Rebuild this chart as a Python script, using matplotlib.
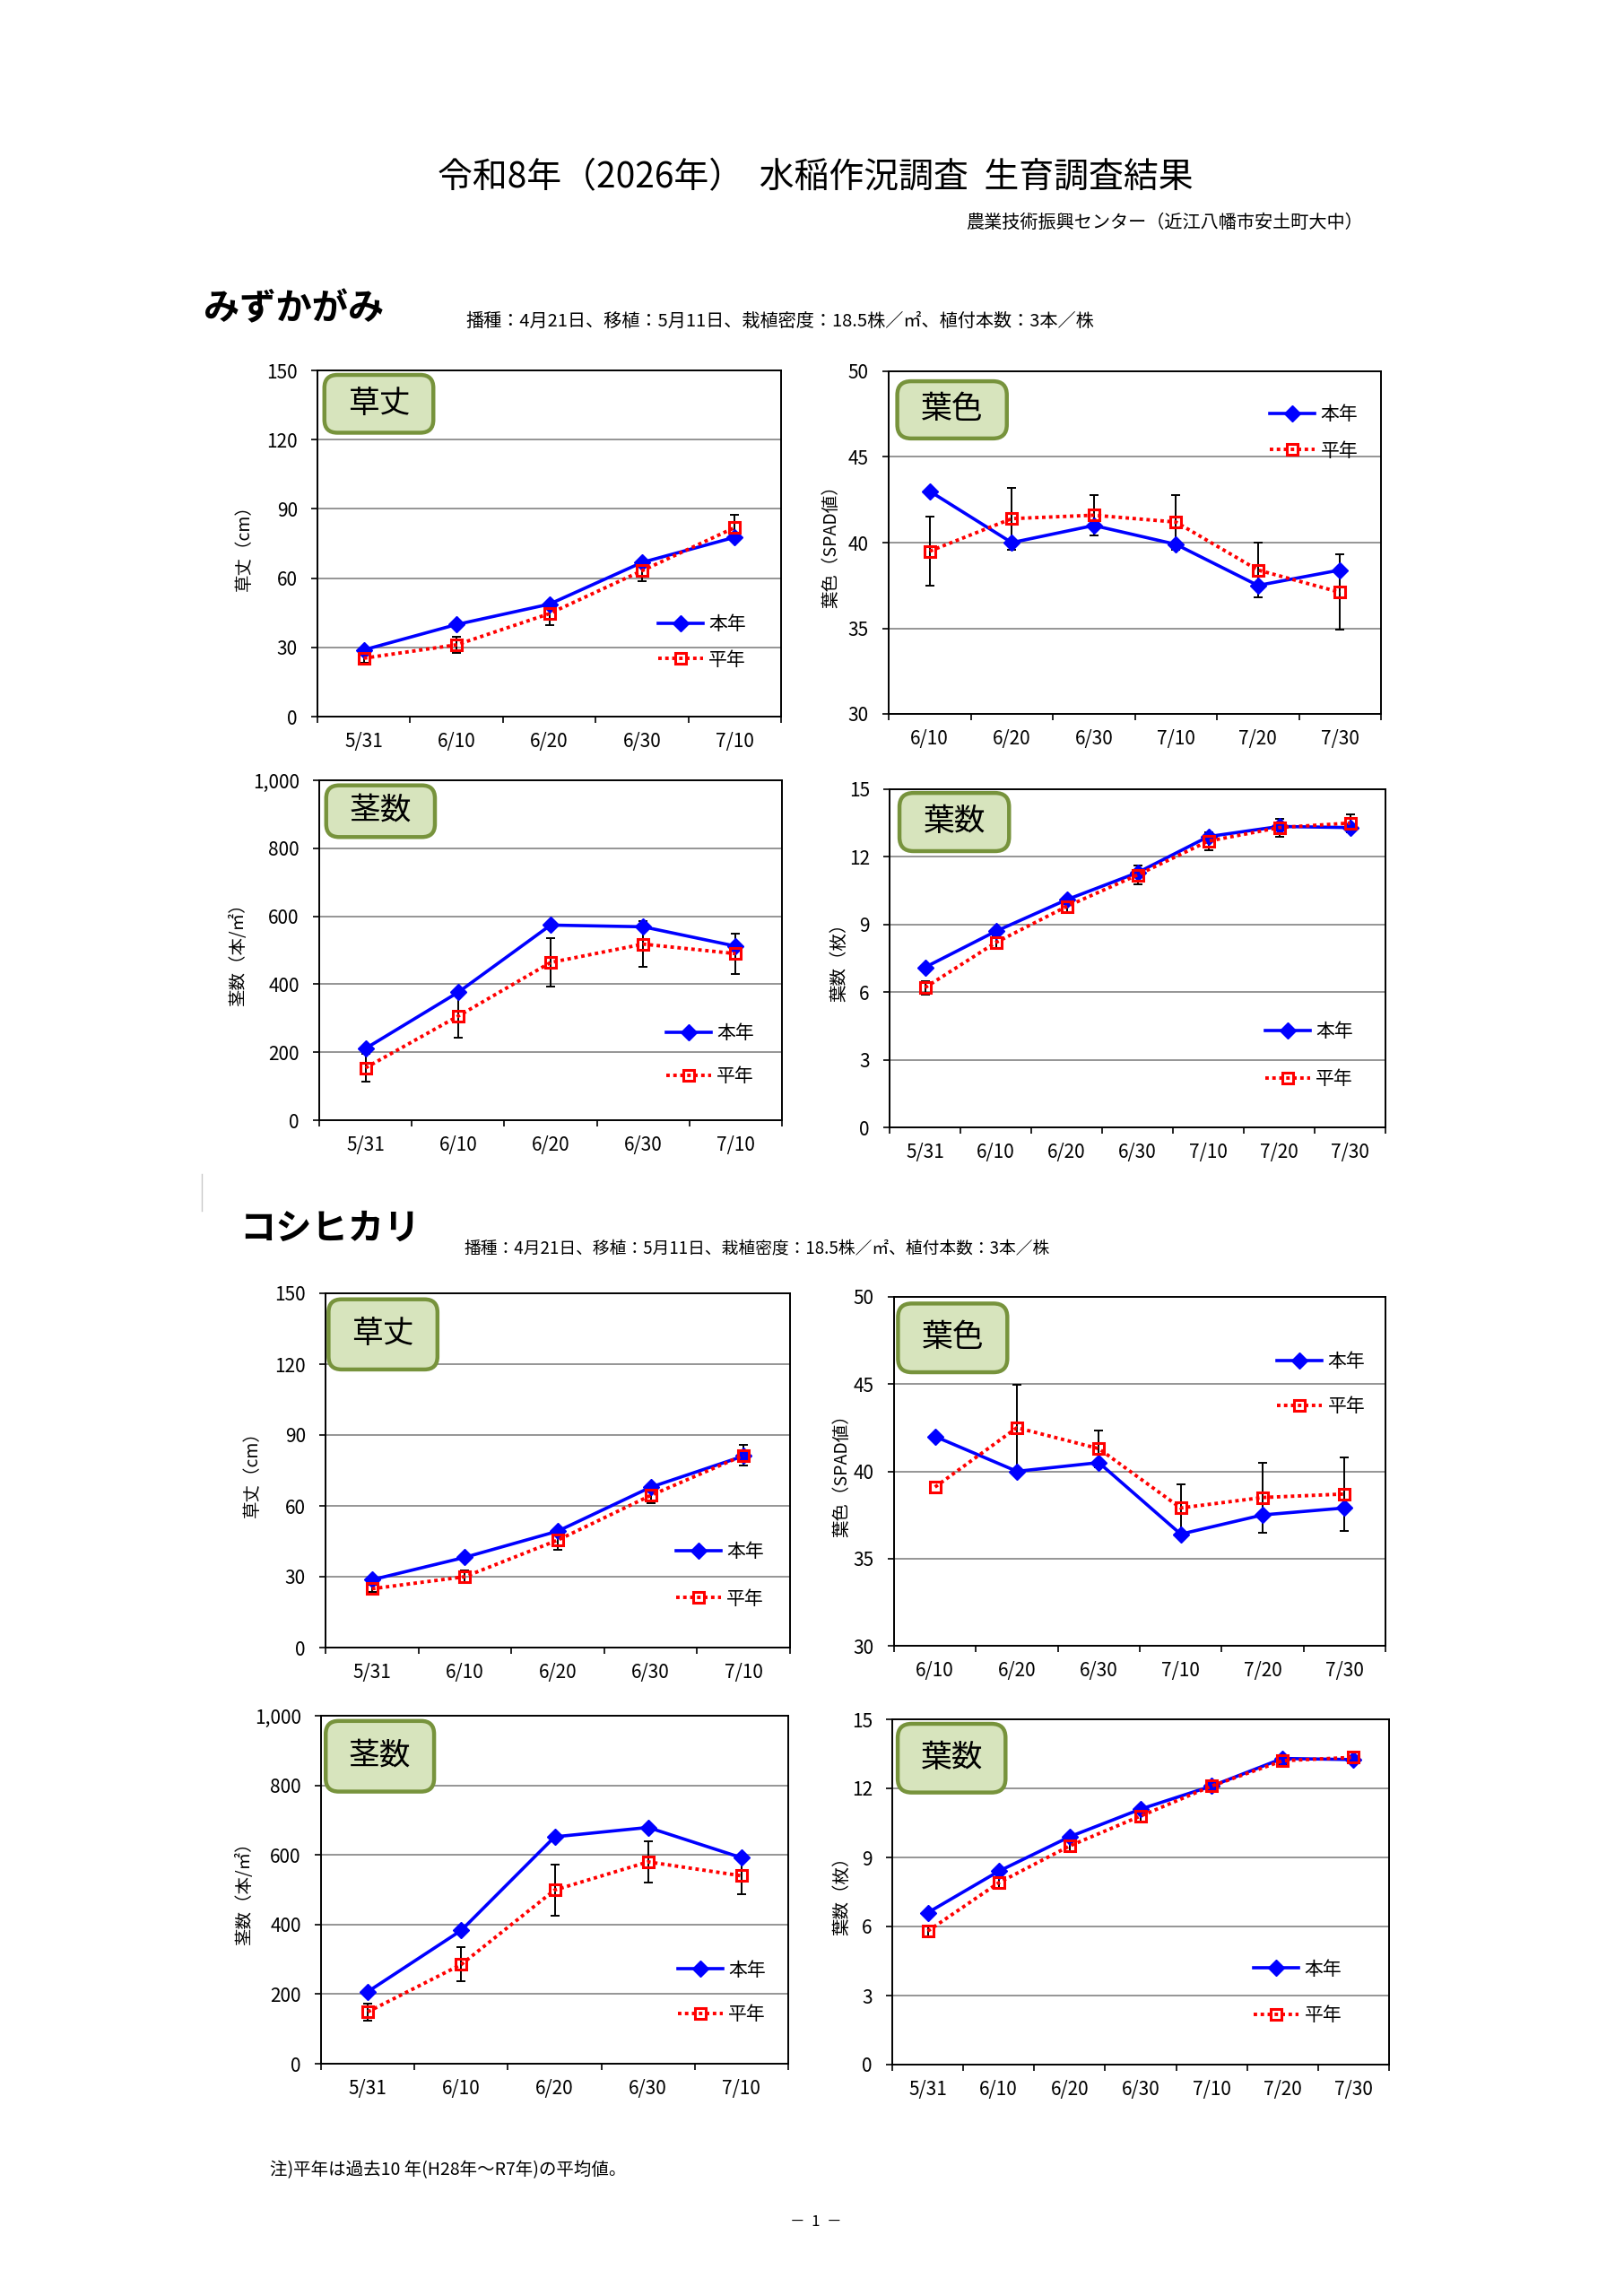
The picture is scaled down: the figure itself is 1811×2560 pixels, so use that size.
import matplotlib
matplotlib.use('Agg')
import matplotlib.pyplot as plt
from matplotlib.patches import FancyBboxPatch
from matplotlib.ticker import FuncFormatter
from matplotlib.lines import Line2D
import numpy as np

plt.rcParams['font.family'] = ['Noto Sans CJK JP', 'DejaVu Sans']

# ---------------- data ----------------
dates5 = ['5/31', '6/10', '6/20', '6/30', '7/10']
dates6 = ['6/10', '6/20', '6/30', '7/10', '7/20', '7/30']
dates7 = ['5/31', '6/10', '6/20', '6/30', '7/10', '7/20', '7/30']

series_names = ['本年', '平年']

# みずかがみ
mz_height_this = [28.9, 39.9, 48.7, 66.8, 77.7]
mz_height_avg = [25.3, 31.1, 44.6, 63.2, 81.9]
mz_height_err = [2.0, 3.6, 5.0, 4.5, 5.7]

mz_color_this = [43.0, 40.0, 41.0, 39.9, 37.5, 38.4]
mz_color_avg = [39.5, 41.4, 41.6, 41.2, 38.4, 37.1]
mz_color_err = [2.0, 1.8, 1.2, 1.6, 1.6, 2.2]

mz_stem_this = [211, 376, 574, 569, 512]
mz_stem_avg = [154, 306, 464, 518, 490]
mz_stem_err = [40, 64, 71, 67, 59]

mz_leaf_this = [7.1, 8.7, 10.1, 11.3, 12.9, 13.35, 13.3]
mz_leaf_avg = [6.2, 8.2, 9.8, 11.2, 12.7, 13.3, 13.5]
mz_leaf_err = [0.3, 0.3, 0.3, 0.4, 0.4, 0.4, 0.4]

# コシヒカリ
ks_height_this = [28.7, 38.2, 49.3, 67.9, 81.1]
ks_height_avg = [24.9, 30.0, 45.5, 64.4, 81.4]
ks_height_err = [1.5, 2.8, 4.2, 3.3, 4.3]

ks_color_this = [42.0, 40.0, 40.5, 36.4, 37.5, 37.9]
ks_color_avg = [39.1, 42.5, 41.3, 37.9, 38.5, 38.7]
ks_color_err = [np.nan, 2.45, 1.05, 1.35, 2.0, 2.1]

ks_stem_this = [207, 383, 652, 679, 592]
ks_stem_avg = [149, 285, 499, 580, 540]
ks_stem_err = [24, 49, 73, 60, 53]

ks_leaf_this = [6.6, 8.4, 9.9, 11.1, 12.1, 13.3, 13.25]
ks_leaf_avg = [5.8, 7.9, 9.5, 10.8, 12.1, 13.2, 13.35]
ks_leaf_err = [0.25, 0.25, 0.25, 0.25, 0.25, 0.2, 0.2]

# ---------------- figure ----------------
W, H = 1811, 2560
fig = plt.figure(figsize=(W / 100, H / 100), dpi=100)
PX = 100 / 72.0  # pixels per point


def fx(x):
    return x / W


def fy(y):
    return 1 - y / H


def chart(box_px, cats, this, avg, err, ylim, ystep, ylabel, title,
          lbl_box, leg_x, leg_y1, leg_y2, ylab_dist, comma=False):
    l, r, t, b = box_px
    wpx, hpx = r - l, b - t
    ax = fig.add_axes([fx(l), fy(b), wpx / W, hpx / H])
    n = len(cats)
    x = np.arange(n)
    ax.set_xlim(-0.5, n - 0.5)
    ax.set_ylim(*ylim)
    yt = np.arange(ylim[0], ylim[1] + ystep / 2, ystep)
    ax.set_yticks(yt)
    if comma:
        ax.yaxis.set_major_formatter(FuncFormatter(lambda v, p: f'{v:,.0f}'))
    ax.set_xticks(np.arange(n + 1) - 0.5)
    ax.set_xticklabels([])
    ax.set_xticks(x, minor=True)
    ax.set_xticklabels(cats, minor=True)
    ax.tick_params(axis='x', which='major', direction='out', length=5, width=1.2)
    ax.tick_params(axis='x', which='minor', length=0, pad=12, labelsize=15)
    ax.tick_params(axis='y', direction='out', length=5, width=1.2, pad=11, labelsize=15)
    ax.set_axisbelow(True)
    ax.yaxis.grid(True, color='#8c8c8c', lw=1.3)
    for s in ax.spines.values():
        s.set_linewidth(1.4)
        s.set_color('black')

    ax.errorbar(x, avg, yerr=err, fmt='none', ecolor='black', elinewidth=1.4,
                capsize=3.5, capthick=1.4, zorder=3)
    ax.plot(x, this, color='#0000FF', lw=2.6, marker='D', ms=9,
            mfc='#0000FF', mec='#0000FF', label=series_names[0], zorder=4)
    ax.plot(x, avg, color='#FF0000', lw=2.8, ls=(0, (1, 1)), marker='s', ms=8,
            mfc='none', mec='#FF0000', mew=2.2, label=series_names[1], zorder=5)

    # label box
    x0, x1, y0, y1 = lbl_box
    patch = FancyBboxPatch((x0, y0), x1 - x0, y1 - y0,
                           boxstyle='round,pad=0,rounding_size=0.028',
                           mutation_aspect=wpx / hpx,
                           transform=ax.transAxes, fc='#D7E4BD', ec='#77933C',
                           lw=3.2, zorder=6, clip_on=False)
    ax.add_patch(patch)
    ax.text((x0 + x1) / 2, (y0 + y1) / 2, title, transform=ax.transAxes,
            ha='center', va='center', fontsize=25, zorder=7)

    # legend
    fs = 15
    fs_px = fs * PX
    sep = (leg_y1 - leg_y2) * hpx
    ls = max(sep / fs_px - 1.05, 0.1)
    ax.legend(loc='center left', bbox_to_anchor=(leg_x, (leg_y1 + leg_y2) / 2),
              frameon=False, fontsize=fs, handlelength=2.4, handletextpad=0.3,
              labelspacing=ls, borderpad=0, borderaxespad=0, numpoints=1)

    ax.set_ylabel(ylabel, fontsize=14)
    ax.yaxis.set_label_coords(-(ylab_dist - 10) / wpx, 0.5)
    return ax


# みずかがみ
chart((354, 871, 413, 799), dates5, mz_height_this, mz_height_avg, mz_height_err,
      (0, 150), 30, '草丈（cm）', '草丈', (0.015, 0.25, 0.82, 0.987),
      0.735, 0.266, 0.164, 81)
chart((991, 1540, 414, 796), dates6, mz_color_this, mz_color_avg, mz_color_err,
      (30, 50), 5, '葉色（SPAD値）', '葉色', (0.0175, 0.24, 0.804, 0.971),
      0.775, 0.873, 0.768, 64)
chart((356, 872, 870, 1249), dates5, mz_stem_this, mz_stem_avg, mz_stem_err,
      (0, 1000), 200, '茎数（本/㎡）', '茎数', (0.015, 0.25, 0.833, 0.985),
      0.75, 0.256, 0.13, 90, comma=True)
chart((992, 1545, 880, 1257), dates7, mz_leaf_this, mz_leaf_avg, mz_leaf_err,
      (0, 15), 3, '葉数（枚）', '葉数', (0.02, 0.241, 0.817, 0.989),
      0.757, 0.283, 0.143, 56)

# コシヒカリ
chart((363, 881, 1442, 1837), dates5, ks_height_this, ks_height_avg, ks_height_err,
      (0, 150), 30, '草丈（cm）', '草丈', (0.0065, 0.241, 0.785, 0.983),
      0.755, 0.271, 0.138, 81)
chart((997, 1545, 1446, 1835), dates6, ks_color_this, ks_color_avg, ks_color_err,
      (30, 50), 5, '葉色（SPAD値）', '葉色', (0.008, 0.2305, 0.784, 0.981),
      0.78, 0.814, 0.686, 58)
chart((358, 879, 1913, 2301), dates5, ks_stem_this, ks_stem_avg, ks_stem_err,
      (0, 1000), 200, '茎数（本/㎡）', '茎数', (0.01, 0.242, 0.782, 0.985),
      0.764, 0.269, 0.142, 85, comma=True)
chart((995, 1549, 1917, 2302), dates7, ks_leaf_this, ks_leaf_avg, ks_leaf_err,
      (0, 15), 3, '葉数（枚）', '葉数', (0.011, 0.228, 0.788, 0.987),
      0.728, 0.276, 0.142, 56)

# ---------------- page texts ----------------
fig.text(fx(909), fy(198), '令和8年（2026年）  水稲作況調査  生育調査結果',
         ha='center', va='center', fontsize=28)
fig.text(fx(1520), fy(248), '農業技術振興センター（近江八幡市安土町大中）',
         ha='right', va='center', fontsize=14.5)
fig.text(fx(227), fy(345), 'みずかがみ', ha='left', va='center', fontsize=29,
         fontweight='bold')
fig.text(fx(519), fy(358), '播種：4月21日、移植：5月11日、栽植密度：18.5株／㎡、植付本数：3本／株',
         ha='left', va='center', fontsize=14.5)
fig.text(fx(267), fy(1370), 'コシヒカリ', ha='left', va='center', fontsize=29,
         fontweight='bold')
fig.text(fx(517), fy(1392), '播種：4月21日、移植：5月11日、栽植密度：18.5株／㎡、植付本数：3本／株',
         ha='left', va='center', fontsize=13.5)
fig.text(fx(301), fy(2420), '注)平年は過去10 年(H28年～R7年)の平均値。',
         ha='left', va='center', fontsize=14)
fig.text(fx(910), fy(2478), '－  1  －', ha='center', va='center', fontsize=12)

fig.add_artist(Line2D([fx(225), fx(225)], [fy(1309), fy(1350)], color='#c8c8c8', lw=1))

fig.savefig('out.png', dpi=100, facecolor='white')
